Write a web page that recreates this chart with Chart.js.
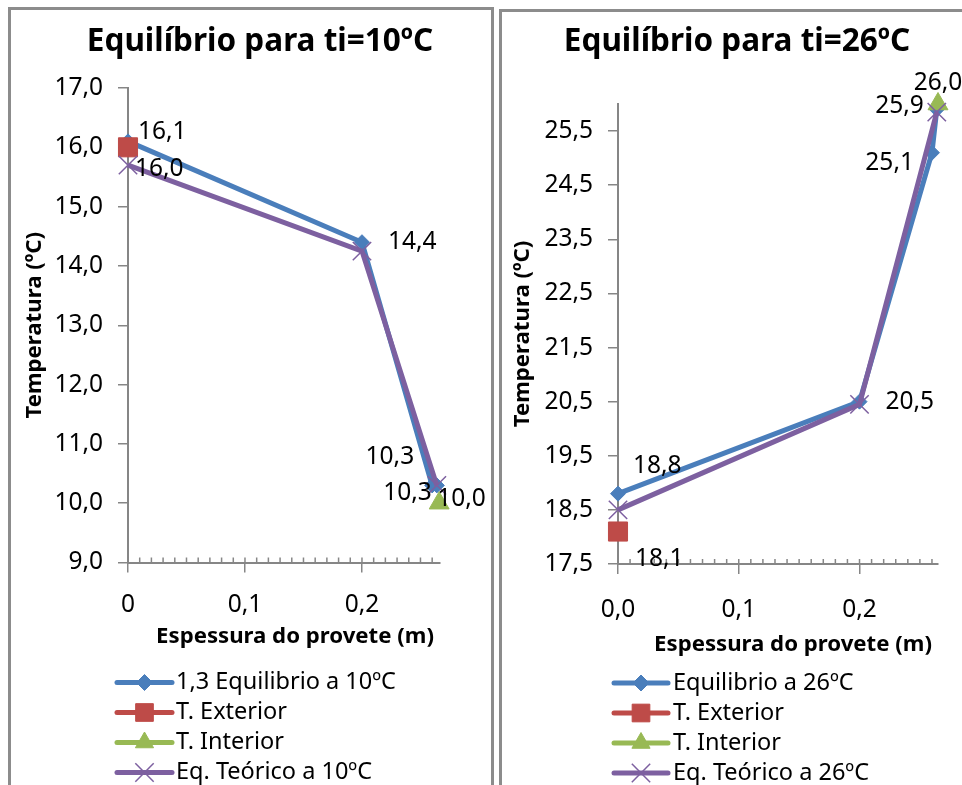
<!DOCTYPE html>
<html>
<head>
<meta charset="utf-8">
<title>Equilíbrio térmico do provete</title>
<script src="https://cdn.jsdelivr.net/npm/chart.js@4.4.1/dist/chart.umd.min.js"></script>
<style>
  html, body { margin: 0; padding: 0; background: #fff; overflow: hidden; }
  body { width: 962px; height: 785px; position: relative; }
  .panel { position: absolute; border: 3px solid #8c8c8c; background: #fff; overflow: hidden; }
  #p10 { left: 8px; top: 7px; width: 480px; height: 800px; }
  #p26 { left: 499px; top: 9px; width: 470px; height: 800px; }
  .panel canvas { position: absolute; left: 0; top: 0; }
</style>
</head>
<body>
<div class="panel" id="p10"><canvas id="c10" width="480" height="800"></canvas></div>
<div class="panel" id="p26"><canvas id="c26" width="460" height="800"></canvas></div>
<script>
// ---- data: ti = 10 ºC ----
const esp10Eq  = [0, 0.2, 0.26, 0.264];
const temp10Eq = [16.1, 14.4, 10.3, 10.3];
const esp10Ext  = [0];
const temp10Ext = [16.0];
const esp10Int  = [0.266];
const temp10Int = [10.0];
const esp10Teo  = [0, 0.2, 0.264];
const temp10Teo = [15.7, 14.25, 10.3];
const yTicks10 = [9, 10, 11, 12, 13, 14, 15, 16, 17];

// ---- data: ti = 26 ºC ----
const esp26Eq  = [0, 0.2, 0.26, 0.264];
const temp26Eq = [18.8, 20.5, 25.1, 25.9];
const esp26Ext  = [0];
const temp26Ext = [18.1];
const esp26Int  = [0.265];
const temp26Int = [26.0];
const esp26Teo  = [0, 0.2, 0.264];
const temp26Teo = [18.5, 20.45, 25.85];
const yTicks26 = [17.5, 18.5, 19.5, 20.5, 21.5, 22.5, 23.5, 24.5, 25.5];

const xTicks = [0, 0.1, 0.2];

const names10 = ['1,3 Equilibrio a 10ºC', 'T. Exterior', 'T. Interior', 'Eq. Teórico a 10ºC'];
const names26 = ['Equilibrio a 26ºC', 'T. Exterior', 'T. Interior', 'Eq. Teórico a 26ºC'];
const xAxisName = 'Espessura do provete (m)';
const yAxisName = 'Temperatura (ºC)';

// ---- styling ----
const FONT = "'Noto Sans', sans-serif";
const AXIS = '#868686';
const BLUE = '#4a7ebb', RED = '#be4b48', GREEN = '#98b954', PURPLE = '#7d60a0';
const TICK_SIZE = 24.5, LABEL_SIZE = 24.5, LEGEND_SIZE = 23.5, AXIS_TITLE_SIZE = 22.2, TITLE_SIZE = 31.5;

const fmt = v => v.toFixed(1).replace('.', ',');
const pts = (xs, ys) => xs.map((x, i) => ({ x: x, y: ys[i] }));

function seriesSet(names, eqX, eqY, extX, extY, intX, intY, teoX, teoY) {
  const base = { showLine: true, tension: 0, borderWidth: 5, clip: false, pointHoverRadius: 0 };
  return [
    Object.assign({}, base, { label: names[0], data: pts(eqX, eqY), borderColor: BLUE,
      pointStyle: 'rectRot', pointRadius: 7.5, pointBackgroundColor: BLUE, pointBorderColor: BLUE,
      pointBorderWidth: 1, legendRadius: 8, order: 4 }),
    Object.assign({}, base, { label: names[1], data: pts(extX, extY), borderColor: RED,
      pointStyle: 'rect', pointRadius: 13.5, pointBackgroundColor: RED, pointBorderColor: RED,
      pointBorderWidth: 1, legendRadius: 12.5, order: 3 }),
    Object.assign({}, base, { label: names[2], data: pts(intX, intY), borderColor: GREEN,
      pointStyle: 'triangle', pointRadius: 11.5, pointBackgroundColor: GREEN, pointBorderColor: GREEN,
      pointBorderWidth: 1, legendRadius: 10.5, order: 2 }),
    Object.assign({}, base, { label: names[3], data: pts(teoX, teoY), borderColor: PURPLE,
      pointStyle: 'crossRot', pointRadius: 13, pointBackgroundColor: PURPLE, pointBorderColor: PURPLE,
      pointBorderWidth: 1.5, legendRadius: 13, order: 1 })
  ];
}

// chart heading and x-axis caption
const captions = {
  id: 'captions',
  afterDraw(chart, args, opts) {
    const ctx = chart.ctx;
    ctx.save();
    ctx.fillStyle = '#000';
    ctx.textAlign = 'center';
    ctx.textBaseline = 'middle';
    ctx.font = 'bold ' + TITLE_SIZE + 'px ' + FONT;
    ctx.fillText(opts.title, opts.titleX, opts.titleY);
    ctx.font = 'bold ' + AXIS_TITLE_SIZE + 'px ' + FONT;
    ctx.fillText(xAxisName, opts.xNameX, chart.chartArea.bottom + opts.xNameDy);
    ctx.restore();
  }
};

// value labels next to the markers
const valueLabels = {
  id: 'valueLabels',
  afterDatasetsDraw(chart, args, opts) {
    const ctx = chart.ctx;
    ctx.save();
    ctx.font = LABEL_SIZE + 'px ' + FONT;
    ctx.fillStyle = '#000';
    ctx.textBaseline = 'middle';
    (opts.items || []).forEach(it => {
      const el = chart.getDatasetMeta(it.ds).data[it.i];
      if (!el) return;
      const v = chart.data.datasets[it.ds].data[it.i].y;
      ctx.textAlign = it.align || 'left';
      ctx.fillText(fmt(v), el.x + it.dx, el.y + it.dy);
    });
    ctx.restore();
  }
};

// small inner tick marks along the x axis every 0.01
const minorTicks = {
  id: 'minorTicks',
  beforeDatasetsDraw(chart) {
    const xs = chart.scales.x;
    const ctx = chart.ctx;
    const y0 = chart.chartArea.bottom;
    ctx.save();
    ctx.strokeStyle = AXIS;
    ctx.lineWidth = 1.5;
    for (let k = 0; k <= Math.floor(xs.max * 100 + 1e-6); k++) {
      const px = xs.getPixelForValue(k / 100);
      ctx.beginPath();
      ctx.moveTo(px, y0 - 5);
      ctx.lineTo(px, y0);
      ctx.stroke();
    }
    ctx.restore();
  }
};

function marker(ctx, style, r, lw, x, y) {
  if (Chart.helpers && Chart.helpers.drawPoint) {
    Chart.helpers.drawPoint(ctx, { pointStyle: style, radius: r, rotation: 0, borderWidth: lw }, x, y);
    return;
  }
  ctx.beginPath();
  const s = r * Math.SQRT1_2;
  if (style === 'rect') ctx.rect(x - s, y - s, 2 * s, 2 * s);
  else if (style === 'rectRot') { ctx.moveTo(x, y - r); ctx.lineTo(x + r, y); ctx.lineTo(x, y + r); ctx.lineTo(x - r, y); ctx.closePath(); }
  else if (style === 'triangle') { ctx.moveTo(x, y - r); ctx.lineTo(x + r * 0.866, y + r / 2); ctx.lineTo(x - r * 0.866, y + r / 2); ctx.closePath(); }
  else { ctx.moveTo(x - s, y - s); ctx.lineTo(x + s, y + s); ctx.moveTo(x + s, y - s); ctx.lineTo(x - s, y + s); ctx.stroke(); return; }
  ctx.fill(); ctx.stroke();
}

// legend: one series per row, line with marker and name
const seriesLegend = {
  id: 'seriesLegend',
  afterDraw(chart, args, opts) {
    const ctx = chart.ctx;
    const y0 = chart.chartArea.bottom + opts.offsetY;
    chart.data.datasets.forEach((ds, i) => {
      const y = y0 + i * opts.rowGap;
      ctx.save();
      ctx.strokeStyle = ds.borderColor;
      ctx.lineWidth = 5;
      ctx.lineCap = 'round';
      ctx.beginPath();
      ctx.moveTo(opts.x0, y);
      ctx.lineTo(opts.x1, y);
      ctx.stroke();
      ctx.fillStyle = ds.pointBackgroundColor;
      ctx.strokeStyle = ds.pointBorderColor;
      ctx.lineWidth = ds.pointBorderWidth;
      ctx.lineCap = 'butt';
      marker(ctx, ds.pointStyle, ds.legendRadius, ds.pointBorderWidth, (opts.x0 + opts.x1) / 2, y);
      ctx.fillStyle = '#000';
      ctx.font = LEGEND_SIZE + 'px ' + FONT;
      ctx.textAlign = 'left';
      ctx.textBaseline = 'middle';
      ctx.fillText(ds.label, opts.textX, y);
      ctx.restore();
    });
  }
};

function makeChart(id, cfg) {
  return new Chart(document.getElementById(id), {
    type: 'scatter',
    data: { datasets: cfg.datasets },
    plugins: [minorTicks, valueLabels, seriesLegend, captions],
    options: {
      responsive: false,
      animation: false,
      events: [],
      layout: { padding: cfg.padding },
      plugins: {
        legend: { display: false },
        tooltip: { enabled: false },
        title: { display: false },
        captions: cfg.captions,
        valueLabels: { items: cfg.labels },
        seriesLegend: cfg.legend
      },
      scales: {
        x: {
          type: 'linear', min: 0, max: cfg.xMax,
          afterBuildTicks: s => { s.ticks = xTicks.map(v => ({ value: v })); },
          afterFit: s => { s.height = cfg.xHeight; },
          grid: { display: true, drawOnChartArea: false, drawTicks: true, tickLength: 10, color: AXIS, lineWidth: 1.5 },
          border: { display: true, color: AXIS, width: 2 },
          ticks: { color: '#000', font: { family: FONT, size: TICK_SIZE }, padding: cfg.xTickPad, maxRotation: 0, autoSkip: false,
                   callback: cfg.xFormat },
          title: { display: false }
        },
        y: {
          type: 'linear', min: cfg.yTicks[0], max: cfg.yMax,
          afterBuildTicks: s => { s.ticks = cfg.yTicks.map(v => ({ value: v })); },
          afterFit: s => { s.width = cfg.yWidth; },
          grid: { display: true, drawOnChartArea: false, drawTicks: true, tickLength: 10, color: AXIS, lineWidth: 1.5 },
          border: { display: true, color: AXIS, width: 2 },
          ticks: { color: '#000', font: { family: FONT, size: TICK_SIZE }, padding: 15, autoSkip: false,
                   callback: v => fmt(v) },
          title: { display: true, text: yAxisName, color: '#000',
                   font: { family: FONT, size: AXIS_TITLE_SIZE, weight: 'bold' }, padding: { top: cfg.yTitlePad, bottom: 0 } }
        }
      }
    }
  });
}

makeChart('c10', {
  captions: { title: 'Equilíbrio para ti=10ºC', titleX: 249, titleY: 32, xNameX: 284, xNameDy: 74 },
  datasets: seriesSet(names10, esp10Eq, temp10Eq, esp10Ext, temp10Ext, esp10Int, temp10Int, esp10Teo, temp10Teo),
  padding: { left: 0, right: 51, top: 78, bottom: 160 },
  xMax: 0.2667, xHeight: 87.5, xTickPad: 17.5,
  xFormat: v => (v === 0 ? '0' : fmt(v)),
  yTicks: yTicks10, yMax: 17, yWidth: 117, yTitlePad: 10,
  labels: [
    { ds: 0, i: 0, dx: 10, dy: -9 },
    { ds: 0, i: 1, dx: 26, dy: 0 },
    { ds: 0, i: 2, dx: -18, dy: -28, align: 'right' },
    { ds: 0, i: 3, dx: -5, dy: 8, align: 'right' },
    { ds: 1, i: 0, dx: 7, dy: 22 },
    { ds: 2, i: 0, dx: -2, dy: -4 }
  ],
  legend: { offsetY: 120, rowGap: 30, x0: 106, x1: 161, textX: 165 }
});

makeChart('c26', {
  captions: { title: 'Equilíbrio para ti=26ºC', titleX: 235, titleY: 30, xNameX: 291, xNameDy: 81 },
  datasets: seriesSet(names26, esp26Eq, temp26Eq, esp26Ext, temp26Ext, esp26Int, temp26Int, esp26Teo, temp26Teo),
  padding: { left: 0, right: 24, top: 92, bottom: 153.5 },
  xMax: 0.265, xHeight: 94.5, xTickPad: 21.5,
  xFormat: v => fmt(v),
  yTicks: yTicks26, yMax: 26, yWidth: 116, yTitlePad: 7,
  labels: [
    { ds: 0, i: 0, dx: 15, dy: -28 },
    { ds: 0, i: 1, dx: 26, dy: 0 },
    { ds: 0, i: 2, dx: -18, dy: 10, align: 'right' },
    { ds: 0, i: 3, dx: -13, dy: -3, align: 'right' },
    { ds: 1, i: 0, dx: 17, dy: 27 },
    { ds: 2, i: 0, dx: 0, dy: -21, align: 'center' }
  ],
  legend: { offsetY: 119, rowGap: 30, x0: 112, x1: 166, textX: 171 }
});
</script>
</body>
</html>
